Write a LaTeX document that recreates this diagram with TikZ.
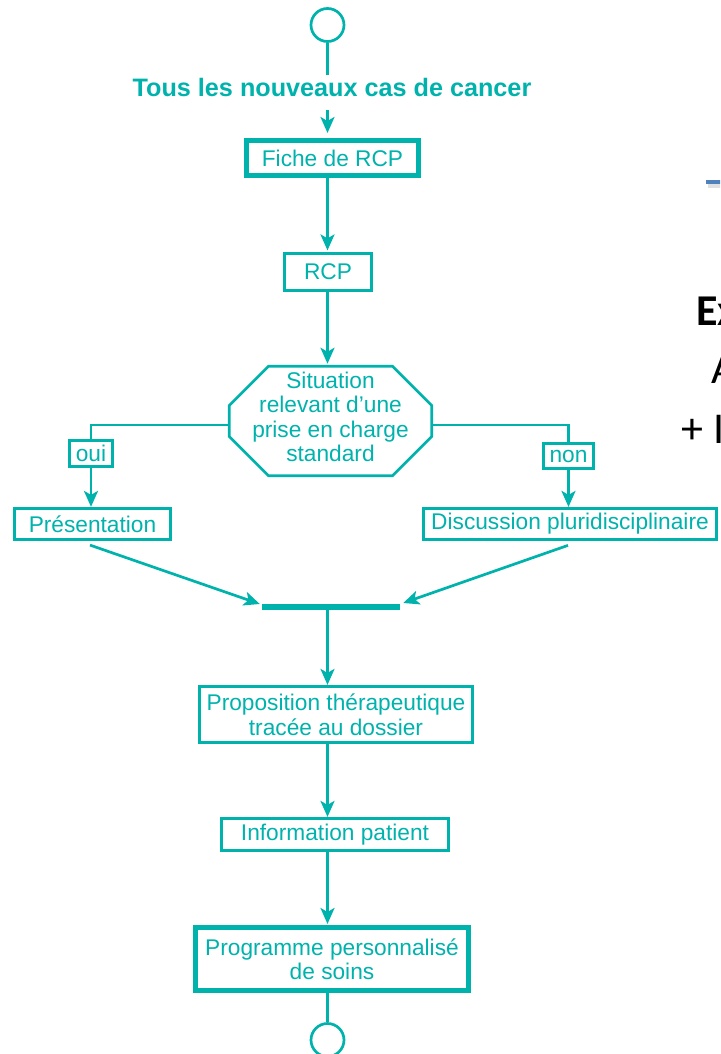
\documentclass[tikz,border=0pt]{standalone}
\usepackage{fontspec}
\setmainfont{Liberation Sans}
\newfontfamily\slidefont{Carlito}
\usetikzlibrary{arrows.meta,calc}
\definecolor{teal1}{RGB}{0,178,172}
\definecolor{slideblue}{RGB}{79,129,189}
\begin{document}
\begin{tikzpicture}[x=1pt,y=-1pt,
  every node/.style={text=teal1, font=\fontsize{22.7}{24.5}\selectfont, inner sep=0pt, align=center},
  box/.style={draw=teal1, line width=2.7pt, rectangle},
  thickbox/.style={draw=teal1, line width=5pt, rectangle},
  conn/.style={draw=teal1, line width=2.7pt},
  arr/.style={conn, -{Stealth[length=16pt,width=14pt,inset=4pt]}},
  term/.style={circle, draw=teal1, line width=2.7pt, minimum size=33pt},
  octline/.style={draw=teal1, line width=2.7pt, line join=miter},
]
\useasboundingbox (0,0) rectangle (720,1054);

% terminals
\node[term] (c1) at (327.5,25) {};
\node[term] (c2) at (327.5,1040) {};

% heading
\node[font=\bfseries\fontsize{25.2}{26}\selectfont] (head) at (332,87) {Tous les nouveaux cas de cancer};
\coordinate (h1) at (327.5,75);
\coordinate (h2) at (327.5,110);

% boxes
\node[thickbox, minimum width=172pt, minimum height=35pt] (fiche) at (332.5,158) {Fiche de RCP};
\node[box, minimum width=87.5pt, minimum height=37.5pt] (rcp) at (328,272) {RCP};

% octagon
\coordinate (oc) at (330.5,421);
\coordinate (octN) at (330.5,366.25);
\node (sit) at (330.5,417) {Situation\\relevant d'une\\prise en charge\\standard};
\draw[octline] ($(oc)+(-62,-54.75)$) -- ($(oc)+(62,-54.75)$) -- ($(oc)+(101.25,-15.5)$)
  -- ($(oc)+(101.25,15.5)$) -- ($(oc)+(62,54.75)$) -- ($(oc)+(-62,54.75)$)
  -- ($(oc)+(-101.25,15.5)$) -- ($(oc)+(-101.25,-15.5)$) -- cycle;
\coordinate (octW) at (229.25,425);
\coordinate (octE) at (431.75,425);

\node[box, minimum width=43.5pt, minimum height=26.5pt] (oui) at (91,453.5) {oui};
\node[box, minimum width=50.5pt, minimum height=25.5pt] (non) at (568.5,456) {non};
\node[box, minimum width=156.5pt, minimum height=31.5pt] (pres) at (92.5,524) {Présentation};
\node[box, minimum width=293.5pt, minimum height=31.5pt] (disc) at (570,524) {Discussion pluridisciplinaire};

\node[fill=teal1, minimum width=138pt, minimum height=6pt] (bar) at (331,607) {};

\node[box, minimum width=273.5pt, minimum height=56.5pt] (prop) at (336,714.5) {Proposition thérapeutique\\tracée au dossier};
\node[box, minimum width=227.5pt, minimum height=32.5pt] (info) at (335,834.5) {Information patient};
\node[thickbox, minimum width=273pt, minimum height=63pt] (prog) at (332,959) {Programme personnalisé\\de soins};

% connectors
\draw[conn] (c1.south) -- (h1);
\draw[arr, shorten >=5pt] (h2) -- (h2 |- fiche.north);
\draw[arr, shorten >=1.5pt] (c1.south |- fiche.south) -- (c1.south |- rcp.north);
\draw[arr, shorten >=2.5pt] (c1.south |- rcp.south) -- (c1.south |- octN);
\draw[conn] (octW) -| (oui.north);
\draw[conn] (octE) -| (non.north);
\draw[arr] (oui.south) -- (oui.south |- pres.north);
\draw[arr] (non.south) -- (non.south |- disc.north);
\draw[arr] ($(pres.south)+(-2.5,4)$) -- ($(bar.west)+(-2,-3)$);
\draw[arr] ($(disc.south)+(-2,4.25)$) -- ($(bar.east)+(3,-4)$);
\draw[arr] (c1.south |- bar.south) -- (c1.south |- prop.north);
\draw[arr] (c1.south |- prop.south) -- (c1.south |- info.north);
\draw[arr, shorten >=1pt] (c1.south |- info.south) -- (c1.south |- prog.north);
\draw[conn] (c1.south |- prog.south) -- (c2.north);

% cut-off slide fragments at the right edge
\begin{scope}
\clip (0,0) rectangle (720,1054);
\fill[black!12] (708,184) rectangle (725,188);
\draw[slideblue, line width=4pt] (706,182) -- (725,182);
\node[anchor=base west, text=black, font=\slidefont\bfseries\fontsize{44}{44}\selectfont] (ex) at (696,325) {Ex};
\node[anchor=base west, text=black, font=\slidefont\fontsize{44}{44}\selectfont] (aa) at (711,383) {A};
\node[anchor=base west, text=black, font=\slidefont\fontsize{44}{44}\selectfont] (pl) at (681,443) {+ I};
\end{scope}
\end{tikzpicture}
\end{document}
